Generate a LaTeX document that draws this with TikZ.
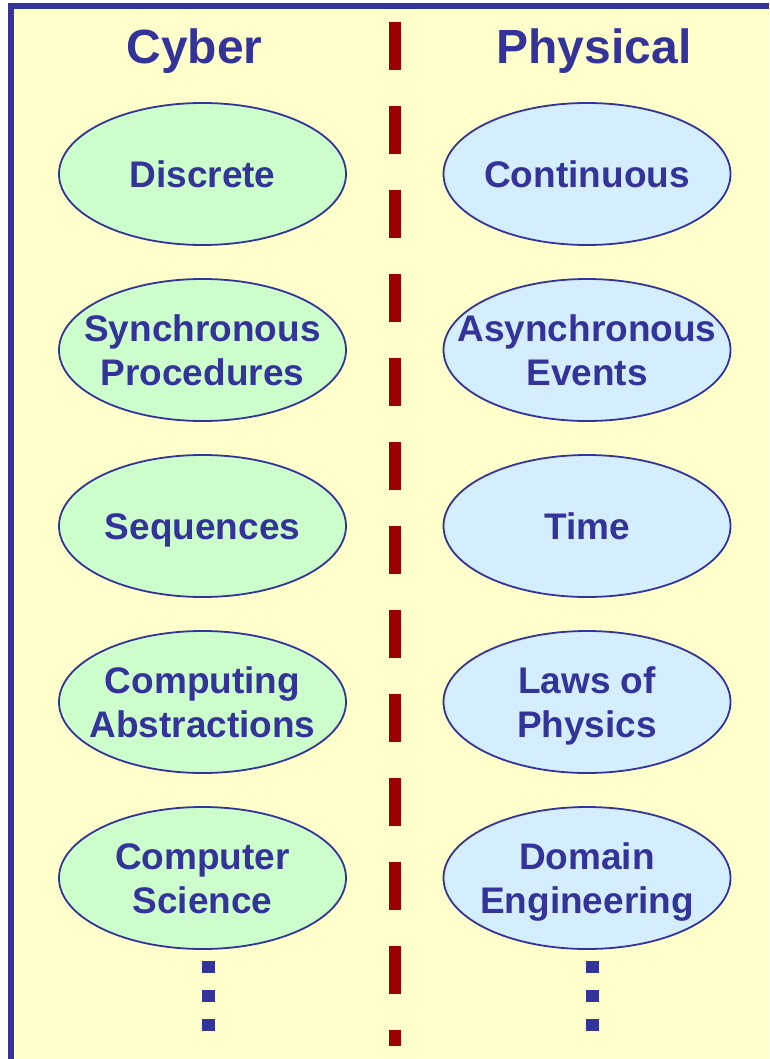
\documentclass[tikz,border=0pt]{standalone}
\usepackage{fontspec}
\setmainfont{Liberation Sans}
\usetikzlibrary{shapes.geometric}
\definecolor{navy}{HTML}{333399}
\definecolor{bgyellow}{HTML}{FFFFCC}
\definecolor{cybfill}{HTML}{CCFFCC}
\definecolor{physfill}{HTML}{D5EEFF}
\definecolor{darkred}{HTML}{990000}
\tikzset{
  title/.style={font=\bfseries\fontsize{48}{56}\selectfont, text=navy, inner sep=0pt, anchor=base},
  blob/.style={ellipse, draw=navy, line width=1.8pt, minimum width=287pt, minimum height=142pt, inner sep=0pt},
  cyb/.style={blob, fill=cybfill},
  phys/.style={blob, fill=physfill},
  lbl/.style={font=\bfseries\fontsize{37}{43.5}\selectfont, text=navy, align=center, inner sep=0pt, anchor=base},
  dot/.style={fill=navy, draw=none, minimum width=13pt, minimum height=12pt, inner sep=0pt, rectangle},
  divider/.style={draw=darkred, line width=12pt, dash pattern=on 48pt off 36pt},
}
\begin{document}
\begin{tikzpicture}[x=1pt, y=-1pt]
\useasboundingbox (0,0) rectangle (769,1059);
\fill[white] (0,0) rectangle (769,1059);
\fill[bgyellow] (8,3) rectangle (769,1059);
\fill[navy] (8,3) rectangle (14,1059);
\fill[navy] (8,3) rectangle (769,9);

\node[title] (cyber) at (194.5,63.5) {Cyber};
\node[title] (physical) at (594,63.5) {Physical};

\coordinate (divtop) at (395,22);
\coordinate (divbot) at (395,1046);
\draw[divider] (divtop) -- (divbot);

\node[cyb] (discrete) at (202.5,174) {};
\node[cyb] (sync) at (202.5,350) {};
\node[cyb] (seq) at (202.5,526) {};
\node[cyb] (compabs) at (202.5,702) {};
\node[cyb] (cs) at (202.5,878) {};

\node[phys] (cont) at (587,174) {};
\node[phys] (async) at (587,350) {};
\node[phys] (time) at (587,526) {};
\node[phys] (laws) at (587,702) {};
\node[phys] (domain) at (587,878) {};

% single-line labels: baseline 13.8 below centre; two-line: last baseline 35.2 below centre
\node[lbl] (tdiscrete) at ([yshift=-13.8pt]discrete.center) {Discrete};
\node[lbl] (tsync) at ([yshift=-35.2pt]sync.center) {Synchronous\\Procedures};
\node[lbl] (tseq) at ([yshift=-13.8pt]seq.center) {Sequences};
\node[lbl] (tcompabs) at ([yshift=-35.2pt]compabs.center) {Computing\\Abstractions};
\node[lbl] (tcs) at ([yshift=-35.2pt]cs.center) {Computer\\Science};

\node[lbl] (tcont) at ([yshift=-13.8pt]cont.center) {Continuous};
\node[lbl] (tasync) at ([yshift=-35.2pt]async.center) {Asynchronous\\Events};
\node[lbl] (ttime) at ([yshift=-13.8pt]time.center) {Time};
\node[lbl] (tlaws) at ([yshift=-35.2pt]laws.center) {Laws of\\Physics};
\node[lbl] (tdomain) at ([yshift=-35.2pt]domain.center) {Domain\\Engineering};

\node[dot] (cd1) at (208.5,967) {};
\node[dot] (cd2) at (208.5,996) {};
\node[dot] (cd3) at (208.5,1025) {};
\node[dot] (pd1) at (592.5,967) {};
\node[dot] (pd2) at (592.5,996) {};
\node[dot] (pd3) at (592.5,1025) {};
\end{tikzpicture}
\end{document}
